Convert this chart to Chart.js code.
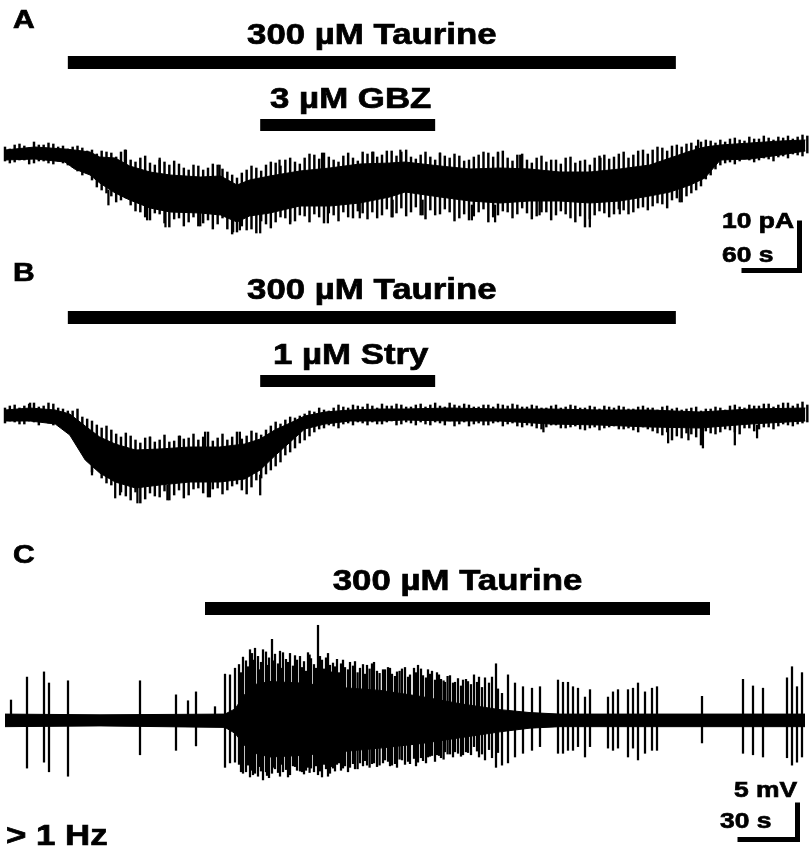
<!DOCTYPE html>
<html>
<head>
<meta charset="UTF-8">
<script src="https://cdn.jsdelivr.net/npm/chart.js@4.4.0/dist/chart.umd.min.js"></script>
<style>
  body { margin: 0; background: #fff; }
  #fig { position: relative; width: 811px; height: 850px; overflow: hidden; }
  #fig canvas { position: absolute; left: 0; }
</style>
</head>
<body>
<div id="fig">
  <canvas id="panelA" width="811" height="285" style="top:0px"></canvas>
  <canvas id="panelB" width="811" height="265" style="top:255px"></canvas>
  <canvas id="panelC" width="811" height="330" style="top:520px"></canvas>
</div>
<script>
const colTime = [0, 10, 20, 30, 40, 50, 60, 70, 80, 90, 100, 110, 120, 130, 140, 150, 160, 170, 180, 190,
  200, 210, 220, 230, 240, 250, 260, 270, 280, 290, 300, 310, 320, 330, 340, 350, 360, 370, 380, 390,
  400, 410, 420, 430, 440, 450, 460, 470, 480, 490, 500, 510, 520, 530, 540, 550, 560, 570, 580, 590,
  600, 610, 620, 630, 640, 650, 660, 670, 680, 690, 700, 710, 720, 730, 740, 750, 760, 770, 780, 790,
  800, 810, 820, 830];
const colTime2 = [5, 15, 25, 35, 45, 55, 65, 75, 85, 95, 105, 115, 125, 135, 145, 155, 165, 175, 185, 195,
  205, 215, 225, 235, 245, 255, 265, 275, 285, 295, 305, 315, 325, 335, 345, 355, 365, 375, 385, 395,
  405, 415, 425, 435, 445, 455, 465, 475, 485, 495, 505, 515, 525, 535, 545, 555, 565, 575, 585, 595,
  605, 615, 625, 635, 645, 655, 665, 675, 685, 695, 705, 715, 725, 735, 745, 755, 765, 775, 785, 795,
  805, 815, 825];

// ---- Panel A: whole-cell current (pA), taurine + GBZ ----
const aTime   = [0, 31, 62, 72, 88, 98, 114, 129, 150, 171, 202, 223, 240, 253, 274, 305, 336, 367, 398, 414, 450, 481, 512, 543, 574, 605, 636, 667, 688, 709, 724, 740, 771, 802, 828];
const aCoreTop    = [1.0, 1.6, 1.2, 1.0, 0.6, -0.4, -0.6, -2.2, -3.4, -4.0, -4.4, -4.2, -6.0, -5.0, -4.2, -3.2, -2.6, -1.8, -1.6, -1.4, -2.2, -2.8, -2.6, -2.8, -3.4, -3.4, -2.8, -2.0, -0.6, 0.8, 1.6, 2.0, 2.4, 2.8, 3.0];
const aCoreBottom = [-1.0, -0.8, -1.4, -2.8, -4.0, -5.6, -7.6, -9.0, -10.6, -11.4, -11.6, -12.0, -13.4, -12.2, -11.6, -10.2, -10.2, -9.6, -8.4, -7.4, -8.4, -9.2, -9.6, -9.2, -9.2, -9.6, -9.2, -8.2, -7.4, -6.0, -4.6, -1.0, -0.8, 0, 0.8];
const aColHi = [1.6, 2.0, 1.8, 2.6, 2.0, 2.2, 1.8, 1.6, 1.4, 1.0,
  0.8, 0.4, 0.6, -1.0, -0.6, -1.6, -1.0, -2.0, -1.8, -3.0,
  -2.2, -2.6, -2.0, -3.4, -4.6, -3.0, -2.6, -2.0, -1.6, -1.0,
  -1.4, -0.6, 0, 0.4, -1.0, -0.2, -0.6, 0.6, 0.6, 0,
  0.8, 0.6, -0.4, 0, -0.4, 0.4, -0.6, -0.2, -1.0, 0,
  0.4, 0.6, -0.6, 0, -1.0, -0.6, -1.4, -1.0, -0.6, -1.6,
  -1.0, -0.6, 0, -0.4, 0.6, 0, 1.0, 1.0, 1.4, 1.8,
  1.6, 2.4, 2.6, 2.8, 3.0, 3.2, 3.0, 3.6, 3.2, 3.4,
  3.6, 3.8, 3.6, 3.8];
const aColLo = [-1.2, -1.4, -1.0, -1.6, -1.2, -1.8, -1.6, -2.4, -4.0, -5.0,
  -7.0, -8.2, -9.0, -10.0, -11.4, -13.0, -11.8, -14.4, -12.6, -13.4,
  -14.2, -13.0, -13.8, -14.8, -15.4, -15.0, -15.6, -13.8, -13.4, -12.6,
  -13.2, -12.2, -11.8, -13.6, -12.0, -11.4, -12.6, -11.6, -11.4, -12.0,
  -12.4, -10.6, -11.4, -12.0, -11.0, -11.8, -11.4, -12.6, -13.0, -11.4,
  -13.4, -12.0, -11.4, -11.8, -11.6, -12.2, -11.4, -12.0, -11.8, -13.4,
  -14.4, -12.0, -11.6, -11.8, -11.0, -11.4, -10.4, -10.2, -9.8, -9.0,
  -9.4, -7.6, -6.2, -4.0, -2.0, -1.4, -1.2, -1.0, -1.0, -0.8,
  -0.4, -0.6, 0, 0.4];
const aColHi2 = [1.2, 2.2, 1.4, 2.0, 2.4, 1.6, 1.2, 1.8, 0.8, 0.2,
  0.6, -0.4, 1.0, -1.4, -0.2, -2.0, -1.4, -1.2, -2.6, -2.0,
  -3.0, -1.8, -2.8, -4.0, -3.6, -2.2, -3.2, -1.4, -2.2, -0.6,
  -1.8, 0.2, -0.8, -0.4, -1.4, 0.4, -1.2, 0.2, -0.4, 0.8,
  -0.2, 1.0, -0.8, 0.6, -1.0, -0.2, 0.2, -1.2, -0.4, 0.6,
  -0.4, 0.8, -1.2, 0.2, -1.6, -0.2, -1.0, -1.8, -0.4, -1.2,
  -2.0, -0.2, -0.8, 0.2, -0.6, 0.8, 0.2, 1.6, 0.8, 2.0,
  2.2, 1.8, 3.0, 2.4, 2.6, 3.4, 2.8, 3.2, 3.8, 3.0,
  3.4, 3.2, 4.0];
const aColLo2 = [-1.6, -1.0, -1.8, -1.2, -1.6, -1.2, -2.0, -3.2, -3.6, -6.4,
  -7.6, -9.4, -8.6, -11.2, -12.4, -11.6, -13.6, -12.8, -14.2, -12.4,
  -13.6, -14.8, -12.6, -15.8, -14.2, -14.8, -13.2, -14.6, -12.4, -13.8,
  -12.0, -13.4, -12.4, -11.6, -13.2, -12.4, -11.2, -12.8, -12.6, -10.8,
  -11.6, -12.2, -10.4, -12.8, -12.0, -10.8, -13.2, -11.8, -12.2, -10.8,
  -12.4, -11.2, -12.6, -10.6, -12.8, -11.4, -13.0, -11.2, -12.6, -12.2,
  -12.8, -11.2, -12.4, -10.8, -11.8, -10.6, -11.0, -9.6, -10.6, -8.6,
  -8.2, -7.0, -4.8, -2.8, -1.6, -1.8, -0.8, -1.4, -0.6, -1.2,
  -0.2, 0.2, -0.2];
const aSpikeTime = [107, 147, 166, 202, 236, 243, 264, 295, 334, 367, 401, 432, 483, 507, 553, 605, 636, 698, 124, 160, 222, 284, 328, 381, 409, 450, 510, 533, 616, 717];
const aSpikeLow  = [-10.0, -13.0, -14.4, -14.2, -15.4, -15.0, -15.6, -13.4, -13.6, -12.6, -12.4, -12.0, -13.0, -13.4, -12.0, -14.4, -11.8, -9.4, -2, -4, -5, -4, -3, -3, -2, -3, -3, -3, -4, 0];
const aSpikeHigh = [-7, -10, -11, -11, -12, -12, -12, -10, -10, -9, -9, -9, -10, -10, -9, -10, -9, -6, 1.0, -0.6, -2.0, -1.0, 0.4, 0.6, 1.0, 0.4, 0.4, 0, -0.6, 3.0];
const aDrugNames = ['300 µM Taurine', '3 µM GBZ'];
const aDrugStart = [65, 264];
const aDrugEnd   = [694, 445];

// ---- Panel B: taurine + strychnine ----
const bTime   = [0, 26, 52, 67, 83, 98, 114, 135, 160, 191, 222, 248, 264, 279, 295, 310, 331, 357, 388, 414, 460, 512, 564, 615, 667, 719, 771, 828];
const bCoreTop    = [1.0, 1.4, 1.0, 0.2, -2.2, -4.4, -5.8, -7.0, -6.8, -6.4, -6.4, -5.8, -4.8, -3.0, -1.6, -0.2, 0.6, 1.0, 1.2, 1.2, 1.4, 1.2, 1.2, 1.0, 1.0, 0.6, 1.2, 1.4];
const bCoreBottom = [-1.2, -1.2, -1.8, -4.0, -9.0, -11.6, -13.4, -14.6, -14.0, -13.4, -13.4, -12.8, -11.0, -8.2, -5.4, -2.8, -1.8, -1.2, -1.2, -1.0, -1.2, -1.2, -1.8, -2.0, -2.4, -2.6, -1.8, -1.2];
const bColHi = [1.4, 2.0, 1.8, 2.4, 1.8, 2.2, 1.2, 0.8, -0.4, -1.2,
  -2.6, -3.0, -4.4, -4.2, -5.6, -4.4, -5.0, -5.4, -4.2, -4.6,
  -5.0, -3.4, -4.6, -5.0, -3.4, -4.2, -3.6, -3.0, -1.4, -1.0,
  -0.6, 0.2, 0.6, 1.0, 1.4, 1.6, 2.0, 1.6, 1.8, 2.2,
  1.8, 2.0, 1.6, 2.2, 2.0, 1.8, 2.4, 1.8, 2.0, 1.6,
  2.0, 2.2, 1.8, 2.0, 1.6, 1.8, 1.4, 2.0, 1.6, 1.8,
  1.4, 1.6, 1.8, 1.4, 1.6, 1.2, 1.8, 1.4, 1.6, 1.2,
  1.0, 1.4, 0.8, 1.2, 1.4, 1.8, 1.6, 2.0, 1.8, 2.2,
  2.0, 2.4, 2.2, 2.0];
const bColLo = [-1.6, -1.4, -1.8, -1.4, -1.2, -2.0, -2.2, -3.4, -6.6, -11.4,
  -12.6, -14.0, -15.4, -17.0, -17.6, -15.6, -16.4, -17.0, -15.0, -16.0,
  -14.6, -16.4, -14.6, -15.0, -13.8, -15.8, -13.0, -11.8, -10.2, -8.0,
  -6.6, -5.0, -3.4, -2.6, -2.2, -1.8, -2.0, -1.6, -1.4, -1.8,
  -1.2, -1.8, -1.6, -1.4, -2.0, -1.6, -1.2, -1.8, -2.2, -1.6,
  -2.0, -1.4, -1.8, -2.2, -2.0, -2.6, -2.4, -2.0, -2.6, -2.2,
  -3.0, -2.4, -2.6, -2.2, -2.8, -3.0, -2.4, -3.2, -4.0, -5.0,
  -4.6, -3.8, -6.0, -3.6, -3.4, -3.0, -3.8, -2.6, -2.8, -2.4,
  -2.2, -2.0, -1.8, -1.4];
const bColHi2 = [1.8, 1.4, 2.2, 1.6, 2.4, 1.4, 0.8, 1.2, -0.8, -2.0,
  -2.2, -3.8, -3.6, -5.0, -4.6, -5.4, -4.0, -5.2, -4.8, -3.8,
  -4.4, -5.2, -3.8, -4.4, -4.8, -3.2, -4.0, -2.2, -1.8, -0.4,
  -0.2, 0.8, 1.4, 0.8, 2.0, 1.4, 1.8, 2.2, 1.4, 1.8,
  2.2, 1.6, 2.0, 1.6, 2.4, 1.6, 2.0, 2.2, 1.6, 2.0,
  1.6, 2.0, 2.2, 1.6, 2.0, 1.4, 1.8, 1.4, 2.0, 1.4,
  1.8, 1.2, 1.6, 1.8, 1.2, 1.6, 1.4, 1.0, 1.8, 1.4,
  1.2, 1.6, 1.2, 1.6, 1.0, 2.0, 1.4, 1.8, 2.2, 1.6,
  2.4, 1.8, 2.6];
const bColLo2 = [-1.2, -1.8, -1.2, -2.0, -1.6, -1.4, -2.6, -4.6, -8.8, -10.6,
  -13.6, -13.2, -16.2, -15.4, -16.8, -16.2, -15.2, -16.0, -16.6, -14.8,
  -15.6, -14.8, -15.8, -14.2, -15.0, -14.4, -12.6, -11.0, -9.4, -7.4,
  -5.6, -4.2, -2.8, -2.0, -2.6, -1.6, -1.4, -2.0, -1.8, -1.4,
  -2.0, -1.4, -2.0, -1.8, -1.4, -2.0, -2.2, -1.4, -1.8, -2.0,
  -1.6, -2.2, -1.6, -2.4, -2.2, -2.8, -2.0, -2.6, -2.4, -2.8,
  -2.6, -3.0, -2.4, -2.8, -2.6, -3.4, -2.8, -3.6, -3.4, -4.2,
  -3.6, -4.4, -3.2, -3.8, -2.8, -3.4, -2.6, -3.2, -2.4, -2.8,
  -1.8, -2.2, -1.6];
const bSpikeTime = [90, 114, 119, 137, 168, 212, 264, 557, 686, 707, 722, 755, 778, 26, 150, 181, 207, 243];
const bSpikeLow  = [-12.0, -16.6, -16.0, -17.6, -17.0, -16.4, -16.0, -3.4, -5.6, -5.0, -6.6, -6.0, -4.6, 0, -8, -8, -7, -7];
const bSpikeHigh = [-9, -13, -13, -14, -14, -13, -12, -1, -2, -2, -2, -2, -2, 2.4, -4.4, -4.2, -3.4, -3.4];
const bDrugNames = ['300 µM Taurine', '1 µM Stry'];
const bDrugStart = [65, 264];
const bDrugEnd   = [694, 445];

// ---- Panel C: extracellular voltage (mV), firing > 1 Hz ----
const cTime       = [0, 47.5, 110, 115, 120, 125, 132.5, 147.5, 167.5, 187.5, 207.5, 227.5, 247.5, 262.5, 277.5, 322.5, 400];
const cCoreTop    = [0.8, 0.7, 0.8, 1.5, 3.5, 4.8, 5.2, 5.0, 4.4, 4.0, 3.2, 2.2, 1.4, 1.0, 0.8, 0.8, 0.8];
const cCoreBottom = [-0.9, -0.8, -1.0, -1.8, -3.5, -4.5, -5.0, -4.8, -4.3, -3.8, -3.2, -2.4, -1.6, -1.1, -0.9, -0.9, -0.9];
const cSpikeTime = [3, 11, 19.5, 22, 31.5, 67.5, 85.5, 91.5, 95.5, 105, 110, 112.5, 115,
  119, 122.5, 125, 129, 133.5, 139, 146, 151.5, 156.5, 158.5, 164, 172.5, 181, 189, 196,
  206.5, 211.5, 216, 220, 225, 229, 234.5, 240, 243.5, 245.5, 248.5, 251.5, 255, 259, 263.5, 267.5,
  276.5, 279, 281.5, 284, 286.5, 290, 292.5, 301.5, 304, 306.5, 311.5, 314, 316.5, 320, 323.5, 326,
  348.5, 369, 374, 379, 391, 393.5, 396, 398.5,
  120.5, 123.5, 126.5, 128, 130.5, 132, 135, 136.5, 140.5, 142.5, 144, 147.5, 149.5, 153, 154.5,
  160.5, 162.5, 166, 168, 170, 175, 177.5, 183.5, 186, 191.5, 193.5, 198.5, 202.5, 204.5, 209,
  213.5, 218, 222.5, 231.5, 237,
  117, 118, 121.5, 124, 127.5, 131, 134, 137.5, 138.3, 141.5, 145, 148.5, 150.5, 152.3, 155.5,
  157.5, 159.5, 161.5, 163.3, 165, 167, 169, 171.5, 174, 176.3, 179, 180, 182.3, 184.5, 187.3,
  190, 192.5, 195, 197.3, 200, 201.5, 205.5, 208, 210.5, 212.5, 215, 217, 219.3, 221.3, 224,
  226.5, 228, 230.5, 233, 236, 238.5, 242, 246.5];
const cSpikeHigh = [2.7, 5.8, 6.5, 5.0, 5.3, 5.3, 3.4, 2.6, 3.8, 1.8, 6.2, 6.1, 7.0,
  8.5, 9.5, 9.7, 9.5, 10.9, 9.1, 8.1, 9.1, 12.8, 8.1, 7.7, 7.8, 7.4, 6.8, 6.5,
  7.4, 6.8, 6.4, 5.1, 5.1, 5.4, 6.1, 5.7, 5.8, 7.6, 3.6, 6.1, 5.0, 4.5, 4.3, 4.5,
  5.4, 5.1, 5.1, 4.5, 4.3, 3.1, 4.1, 3.1, 3.8, 4.1, 4.1, 4.3, 5.0, 3.8, 4.3, 4.5,
  3.2, 5.5, 4.6, 4.3, 5.7, 7.2, 4.5, 6.4,
  8.0, 9.0, 8.6, 7.8, 9.2, 8.4, 8.9, 7.6, 8.2, 9.0, 7.3, 8.6, 7.9, 8.3, 7.5,
  8.4, 7.4, 8.2, 7.6, 7.1, 7.9, 7.0, 7.6, 6.6, 7.1, 6.2, 6.9, 6.1, 7.0, 6.0,
  6.6, 5.5, 6.0, 5.2, 5.8,
  7.5, 6.4, 7.2, 8.1, 6.8, 7.4, 8.0, 9.3, 7.0, 7.8, 8.7, 7.1, 6.6, 8.8, 7.0,
  8.6, 6.9, 9.0, 6.5, 7.2, 6.4, 8.1, 6.8, 7.3, 6.4, 7.5, 6.2, 6.9, 7.8, 6.3,
  6.8, 7.0, 5.9, 6.6, 7.1, 5.8, 6.4, 6.9, 5.7, 6.2, 5.4, 6.1, 5.3, 5.9, 5.0,
  5.6, 4.6, 5.5, 4.8, 5.1, 4.4, 5.0, 4.2];
const cSpikeLow = [-0.7, -6.5, -5.7, -7.0, -7.6, -4.7, -4.1, -0.4, -3.5, -0.5, -6.4, -5.8, -5.7,
  -7.2, -7.7, -7.2, -8.1, -7.2, -7.0, -6.8, -6.4, -7.4, -7.7, -6.5, -6.4, -6.1, -5.8, -6.4,
  -5.7, -5.0, -4.7, -4.3, -4.3, -4.7, -3.6, -5.4, -5.1, -6.4, -6.1, -5.8, -5.0, -4.5, -4.1, -3.6,
  -4.5, -4.5, -4.1, -4.1, -3.6, -5.0, -3.6, -3.8, -4.1, -3.8, -5.0, -3.8, -5.4, -4.5, -4.1, -4.1,
  -3.1, -4.5, -4.7, -5.0, -5.1, -6.1, -5.7, -5.0,
  -7.0, -6.8, -7.6, -6.9, -7.0, -7.8, -6.6, -7.1, -6.7, -7.4, -6.2, -6.9, -7.3, -6.5, -7.0,
  -6.6, -7.2, -6.0, -6.8, -6.2, -6.6, -5.8, -5.9, -6.3, -5.6, -6.1, -5.4, -5.9, -5.2, -5.5,
  -4.8, -5.1, -4.6, -4.4, -5.0,
  -6.0, -7.0, -6.1, -7.4, -6.3, -7.5, -6.4, -7.6, -6.0, -7.7, -6.3, -7.0, -6.8, -7.1, -6.2,
  -6.9, -6.0, -7.6, -6.3, -6.9, -5.8, -6.5, -7.0, -5.9, -6.6, -6.2, -5.5, -6.4, -5.8, -6.1,
  -5.4, -6.2, -5.9, -5.3, -6.0, -5.6, -6.2, -5.1, -5.8, -4.9, -5.6, -4.8, -5.3, -4.6, -5.0,
  -4.5, -4.9, -4.3, -4.7, -4.2, -4.6, -4.0, -4.4];
const cDrugNames = ['300 µM Taurine'];
const cDrugStart = [100];
const cDrugEnd   = [352.5];

const FONT = '"Liberation Sans", Arial, sans-serif';

function stretchText(ctx, text, x, y, size, align) {
  ctx.save();
  ctx.font = 'bold ' + size + 'px ' + FONT;
  ctx.textAlign = align;
  ctx.textBaseline = 'alphabetic';
  ctx.translate(x, y);
  ctx.scale(1.2, 1);
  ctx.lineWidth = 0.7;
  ctx.strokeStyle = '#000';
  ctx.fillText(text, 0, 0);
  ctx.strokeText(text, 0, 0);
  ctx.restore();
}

// drug bars, scale bars and panel text, placed through the chart scales
const decor = {
  id: 'decor',
  afterDatasetsDraw(chart, args, opts) {
    const ctx = chart.ctx, xs = chart.scales.x, ys = chart.scales.y;
    ctx.save();
    ctx.fillStyle = '#000';
    ctx.strokeStyle = '#000';
    opts.names.forEach((name, i) => {
      const x1 = xs.getPixelForValue(opts.start[i]);
      const x2 = xs.getPixelForValue(opts.end[i]);
      const row = opts.rows[i];
      ctx.fillRect(x1, row.top, x2 - x1, row.h);
      stretchText(ctx, name, (x1 + x2) / 2 + (row.dx || 0), row.top - row.gap, 29, 'center');
    });
    const sb = opts.scaleBar;
    if (sb) {
      const cx = xs.getPixelForValue(sb.t), cy = ys.getPixelForValue(sb.v);
      ctx.lineWidth = 5;
      ctx.lineJoin = 'miter';
      ctx.beginPath();
      ctx.moveTo(xs.getPixelForValue(sb.t - sb.dt), cy);
      ctx.lineTo(cx, cy);
      ctx.lineTo(cx, ys.getPixelForValue(sb.v + sb.dv));
      ctx.stroke();
      stretchText(ctx, sb.yLabel, sb.yLabelPos[0], sb.yLabelPos[1], 22, 'right');
      stretchText(ctx, sb.xLabel, sb.xLabelPos[0], sb.xLabelPos[1], 22, 'left');
    }
    (opts.texts || []).forEach(t => stretchText(ctx, t.text, t.x, t.y, t.size, 'left'));
    ctx.restore();
  }
};

function barSet(times, lo, hi, thick) {
  return { type: 'bar', data: times.map((t, i) => ({ x: t, y: [lo[i], hi[i]] })),
    backgroundColor: '#000', borderWidth: 0, barThickness: thick, grouped: false };
}

function traceDatasets(time, top, bottom, extra) {
  return [
    { type: 'line', data: time.map((t, i) => ({ x: t, y: top[i] })),
      borderColor: '#000', borderWidth: 1, pointRadius: 0, tension: 0, fill: false },
    { type: 'line', data: time.map((t, i) => ({ x: t, y: bottom[i] })),
      borderColor: '#000', borderWidth: 1, pointRadius: 0, tension: 0,
      fill: '-1', backgroundColor: '#000' }
  ].concat(extra);
}

function makePanel(id, datasets, xr, yr, decorOpts) {
  return new Chart(document.getElementById(id), {
    type: 'line',
    data: { datasets: datasets },
    options: {
      responsive: false,
      animation: false,
      events: [],
      layout: { padding: 0 },
      plugins: { legend: { display: false }, tooltip: { enabled: false }, decor: decorOpts },
      scales: {
        x: { type: 'linear', min: xr[0], max: xr[1], display: false, offset: false },
        y: { type: 'linear', min: yr[0], max: yr[1], display: false }
      }
    },
    plugins: [decor]
  });
}

makePanel('panelA',
  traceDatasets(aTime, aCoreTop, aCoreBottom, [
    barSet(colTime, aColLo, aColHi, 1.8),
    barSet(colTime2, aColLo2, aColHi2, 1.8),
    barSet(aSpikeTime, aSpikeLow, aSpikeHigh, 1.6)
  ]),
  [-5.17, 833.8], [-26, 31],
  {
    names: aDrugNames, start: aDrugStart, end: aDrugEnd,
    rows: [{ top: 56, h: 13, gap: 12 }, { top: 119, h: 12, gap: 11, dx: 3 }],
    scaleBar: { t: 821.9, v: -23.1, dt: 60, dv: 10, yLabel: '10 pA', xLabel: '60 s',
                yLabelPos: [794, 228], xLabelPos: [722, 262] },
    texts: [{ text: 'A', x: 13, y: 28, size: 25 }]
  });

makePanel('panelB',
  traceDatasets(bTime, bCoreTop, bCoreBottom, [
    barSet(colTime, bColLo, bColHi, 1.8),
    barSet(colTime2, bColLo2, bColHi2, 1.8),
    barSet(bSpikeTime, bSpikeLow, bSpikeHigh, 1.6)
  ]),
  [-5.17, 833.8], [-21, 32],
  {
    names: bDrugNames, start: bDrugStart, end: bDrugEnd,
    rows: [{ top: 56, h: 13, gap: 12 }, { top: 120, h: 12, gap: 11, dx: 3 }],
    scaleBar: null,
    texts: [{ text: 'B', x: 13, y: 26, size: 25 }]
  });

makePanel('panelC',
  traceDatasets(cTime, cCoreTop, cCoreBottom, [
    barSet(cSpikeTime, cSpikeLow, cSpikeHigh, 1.6)
  ]),
  [-2.5, 403], [-17.57, 27.03],
  {
    names: cDrugNames, start: cDrugStart, end: cDrugEnd,
    rows: [{ top: 82, h: 13, gap: 12 }],
    scaleBar: { t: 396.25, v: -16.15, dt: 30, dv: 5, yLabel: '5 mV', xLabel: '30 s',
                yLabelPos: [797, 277], xLabelPos: [720, 308] },
    texts: [{ text: 'C', x: 13, y: 43, size: 25 }, { text: '> 1 Hz', x: 6, y: 325, size: 29 }]
  });
</script>
</body>
</html>
